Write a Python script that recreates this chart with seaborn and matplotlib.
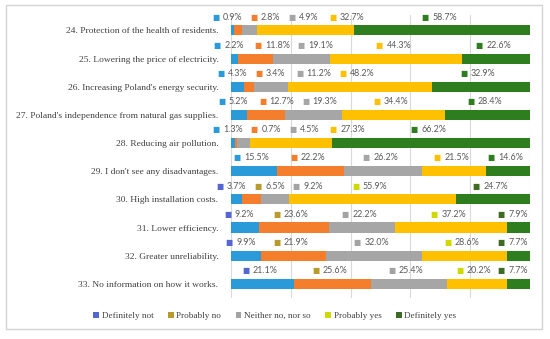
import numpy as np
import pandas as pd
import matplotlib
matplotlib.use("Agg")
import matplotlib.pyplot as plt
from matplotlib.patches import Rectangle, Patch
import seaborn as sns

questions = [
    "24. Protection of the health of residents.",
    "25. Lowering the price of electricity.",
    "26. Increasing Poland's energy security.",
    "27. Poland's independence from natural gas supplies.",
    "28. Reducing air pollution.",
    "29. I don't see any disadvantages.",
    "30. High installation costs.",
    "31. Lower efficiency.",
    "32. Greater unreliability.",
    "33. No information on how it works.",
]
answers = ["Definitely not", "Probably no", "Neither no, nor so", "Probably yes", "Definitely yes"]

definitely_not = [0.9, 2.2, 4.3, 5.2, 1.3, 15.5, 3.7, 9.2, 9.9, 21.1]
probably_no = [2.8, 11.8, 3.4, 12.7, 0.7, 22.2, 6.5, 23.6, 21.9, 25.6]
neither = [4.9, 19.1, 11.2, 19.3, 4.5, 26.2, 9.2, 22.2, 32.0, 25.4]
probably_yes = [32.7, 44.3, 48.2, 34.4, 27.3, 21.5, 55.9, 37.2, 28.6, 20.2]
definitely_yes = [58.7, 22.6, 32.9, 28.4, 66.2, 14.6, 24.7, 7.9, 7.7, 7.7]

bar_colors = ["#2A9AD8", "#F57E2C", "#A6A6A6", "#FFC000", "#2E7D1F"]
alt_colors = ["#5466D2", "#B89B2C", "#A3A3A3", "#CFD800", "#3D6B22"]

df = pd.DataFrame({
    "question": questions,
    answers[0]: definitely_not,
    answers[1]: probably_no,
    answers[2]: neither,
    answers[3]: probably_yes,
    answers[4]: definitely_yes,
})
cum = df[answers].cumsum(axis=1)

fig = plt.figure(figsize=(5.5, 3.39), dpi=100)
ax = fig.add_axes([0.42, 0.121, 0.5436, 0.835])

# stacked bars: draw the cumulative totals from the widest down
for i in range(len(answers) - 1, -1, -1):
    sns.barplot(x=cum[answers[i]].values, y=df["question"], orient="h",
                color=bar_colors[i], width=0.36, ax=ax, saturation=1, zorder=3)

ax.set_xlim(0, 100)
ax.set_ylim(9.5, -0.55)
ax.set_xticks([0, 20, 40, 60, 80, 100])
ax.set_xticklabels([])
ax.tick_params(axis="x", length=0)
ax.tick_params(axis="y", length=0, pad=9)
ax.grid(axis="x", color="#D9D9D9", linewidth=0.8, zorder=0)
ax.set_axisbelow(True)
for s in ax.spines.values():
    s.set_visible(False)
ax.set_xlabel("")
ax.set_ylabel("")
for lab in ax.get_yticklabels():
    lab.set_fontfamily("Liberation Serif")
    lab.set_fontsize(6.8)
    lab.set_color("#404040")

# data labels above each bar, spread out so they don't overlap
for r in range(len(questions)):
    vals = df.loc[r, answers].values.astype(float)
    starts = cum.loc[r, answers].values - vals
    centers = list(starts + vals / 2)
    # gap grows with the text length of the two neighbouring labels
    widths = [6.5 + 1.6 * len(f"{v:.1f}") for v in vals]
    for k in range(1, len(centers)):
        g = (widths[k - 1] + widths[k]) / 2 + 1.5
        centers[k] = max(centers[k], centers[k - 1] + g)
    if centers[-1] > 96:
        centers[-1] = 96
        for k in range(len(centers) - 2, -1, -1):
            g = (widths[k] + widths[k + 1]) / 2 + 1.5
            centers[k] = min(centers[k], centers[k + 1] - g)
    mcols = bar_colors if r < 6 else alt_colors
    for k, v in enumerate(vals):
        x0 = centers[k] - 3.5
        ax.annotate("■", (x0, r - 0.47), xytext=(-2, 0), textcoords="offset points",
                    ha="right", va="center", fontsize=5.5, color=mcols[k],
                    family="DejaVu Sans", annotation_clip=False)
        ax.annotate(f"{v:.1f}%", (x0, r - 0.47), xytext=(0.5, 0), textcoords="offset points",
                    ha="left", va="center", fontsize=6.4, color="#595959",
                    family="Lato", annotation_clip=False)

handles = [Patch(facecolor=c, edgecolor="none") for c in alt_colors]
fig.legend(handles, answers, loc="center", bbox_to_anchor=(0.5, 0.068), ncol=5,
           frameon=False, handlelength=0.6, handleheight=0.6, handletextpad=0.3,
           columnspacing=1.6, prop={"family": "Liberation Serif", "size": 6.6},
           labelcolor="#404040")

fig.patches.append(Rectangle((0.011, 0.03), 0.974, 0.955, transform=fig.transFigure,
                             facecolor="none", edgecolor="#D4D4D4", linewidth=1.0))

fig.savefig("out.png", dpi=100)
